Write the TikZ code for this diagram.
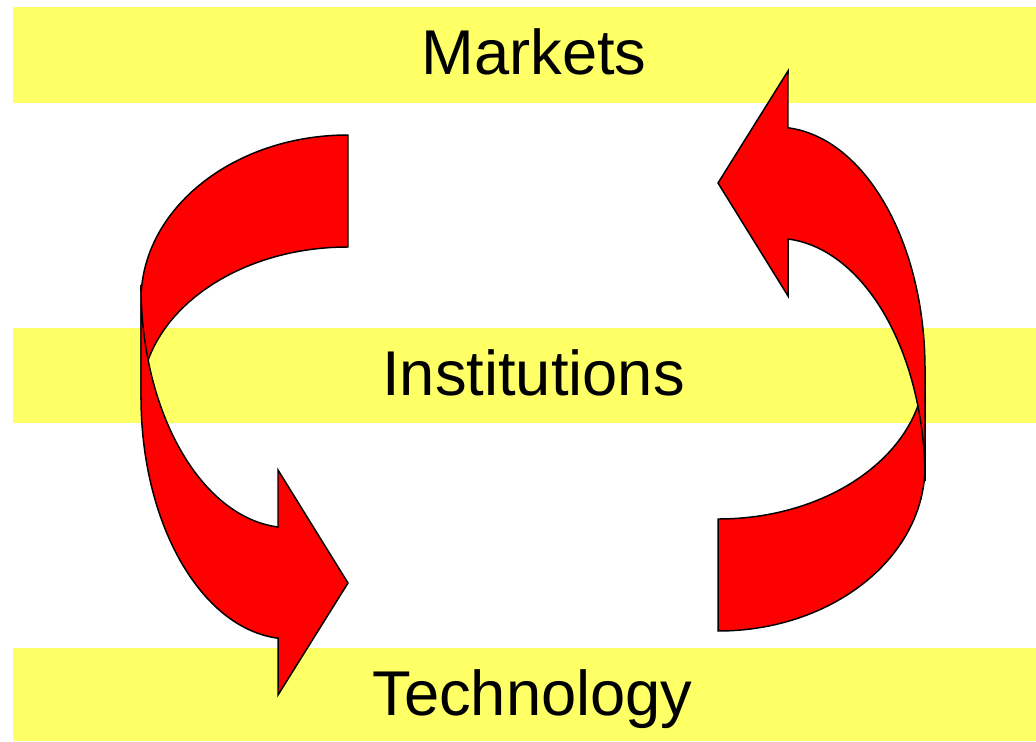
\documentclass[tikz,border=0pt]{standalone}
\usepackage{fontspec}
\setmainfont{Liberation Sans}
\usepackage{tikz}
\usetikzlibrary{positioning}
\usepackage{xcolor}
\definecolor{bandyellow}{HTML}{FFFF66}

\begin{document}
\begin{tikzpicture}[x=0.025cm,y=-0.025cm,
            band/.style={fill=bandyellow},
            label/.style={anchor=base,font=\fontsize{45}{50}\selectfont,inner sep=0pt},
            arw/.style={fill=red,draw=black,line width=1.05pt,line join=miter}]

            \useasboundingbox (0,0) rectangle (1036,741);

            % yellow bands
            \foreach \top/\bot in {7.5/103,328/423,648/741}
               \fill[band] (13,\top) rectangle (1036,\bot);

            % the two twisted arrows, second one turned round
            \foreach \ang in {0,180}{
               \begin{scope}[rotate around={\ang:(533,383)}]
                  \draw[arw] (348,135) arc[start angle=270,end angle=180,x radius=207,y radius=165]
                     -- (141,400) arc[start angle=180,end angle=270,x radius=207,y radius=153] -- cycle;
                  \draw[arw] (141,285) -- (141,397) arc[start angle=180,end angle=94.6,x radius=149,y radius=242]
                     -- (278,695) -- (348,583) -- (278,470) -- (278,527)
                     arc[start angle=94.6,end angle=180,x radius=149,y radius=242] -- cycle;
               \end{scope}
            }

            \node[label] (markets) at (534,75) {Markets};
            \node[label] (institutions) at (533.5,395) {Institutions};
            \node[label] (technology) at (532.5,715) {Technology};
         \end{tikzpicture}
\end{document}
